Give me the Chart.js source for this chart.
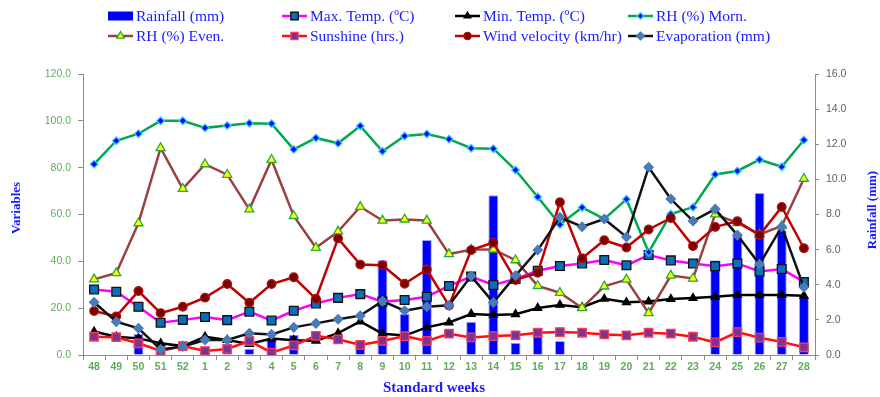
<!DOCTYPE html>
<html>
<head>
<meta charset="utf-8">
<title>Weekly weather variables</title>
<script src="https://cdn.jsdelivr.net/npm/chart.js@4.4.1/dist/chart.umd.min.js"></script>
<style>
  html, body { margin: 0; padding: 0; background: #ffffff; }
  #wrap { width: 880px; height: 397px; }
</style>
</head>
<body>
<div id="wrap"><canvas id="chart" width="880" height="397"></canvas></div>
<script>
// Standard meteorological weeks (48-52 of the first year, 1-28 of the next)
const weeks = ['48','49','50','51','52','1','2','3','4','5','6','7','8','9','10','11','12','13','14','15','16','17','18','19','20','21','22','23','24','25','26','27','28'];

// Right axis (mm)
const rainfall = [0, 0, 1.2, 0, 0, 0.3, 0.5, 0.35, 0.85, 1.15, 0, 0, 0.5, 5.4, 2.33, 6.55, 0, 1.9, 9.1, 0.7, 1.53, 0.8, 0, 0, 0, 0, 0, 0, 5.4, 6.87, 9.22, 7.1, 3.3];

// Left axis variables
const maxTemp = [28.0, 27.0, 20.6, 13.8, 15.0, 16.2, 14.9, 18.5, 14.7, 18.9, 22.0, 24.4, 26.0, 22.8, 23.5, 24.9, 29.5, 33.5, 29.9, 32.5, 36.0, 38.0, 39.1, 40.6, 38.3, 42.7, 40.4, 39.1, 37.9, 39.1, 35.7, 36.7, 31.2];
const minTemp = [10.0, 7.8, 7.1, 5.0, 3.8, 7.8, 6.4, 4.7, 7.0, 6.3, 6.1, 9.3, 14.3, 9.1, 8.3, 11.8, 13.9, 17.5, 17.1, 17.4, 20.1, 21.4, 20.4, 24.0, 22.5, 22.8, 23.9, 24.3, 24.9, 25.6, 25.6, 25.6, 25.3];
const rhMorning = [81.5, 91.5, 94.5, 100, 100, 97.0, 98.0, 99.0, 98.8, 87.8, 92.7, 90.4, 97.8, 87.0, 93.5, 94.4, 92.2, 88.3, 88.1, 79.0, 67.5, 55.7, 63.0, 58.1, 66.5, 43.9, 60.2, 63.1, 77.1, 78.6, 83.4, 80.4, 91.8];
const rhEvening = [32.3, 35.0, 56.3, 88.4, 71.0, 81.5, 77.0, 62.2, 83.4, 59.4, 45.8, 52.7, 63.3, 57.4, 57.9, 57.4, 43.1, 45.0, 45.1, 40.5, 29.5, 26.6, 20.1, 29.3, 32.2, 17.9, 33.9, 32.7, 60.1, 56.4, 51.5, 55.1, 75.3];
const sunshine = [7.8, 7.6, 5.0, 1.7, 3.8, 1.7, 2.6, 6.0, 1.0, 4.1, 8.2, 6.7, 4.3, 6.0, 8.1, 6.0, 9.1, 7.5, 8.1, 8.4, 9.5, 9.8, 9.5, 8.8, 8.4, 9.5, 9.1, 7.8, 5.4, 9.8, 7.4, 5.6, 3.3];
const windVelocity = [18.8, 16.5, 27.3, 17.9, 20.6, 24.5, 30.3, 22.3, 30.3, 33.2, 24.0, 49.8, 38.6, 38.3, 30.4, 36.5, 21.1, 44.8, 48.0, 32.0, 35.1, 65.2, 41.3, 49.0, 45.9, 53.6, 58.5, 46.5, 54.7, 57.1, 51.2, 63.2, 45.6];
const evaporation = [22.5, 14.2, 11.4, 2.4, 3.6, 6.4, 6.4, 9.3, 8.8, 11.8, 13.5, 15.3, 16.8, 23.0, 18.9, 20.6, 21.2, 33.7, 22.4, 33.9, 44.8, 58.8, 54.8, 58.1, 50.4, 80.2, 66.6, 57.2, 62.3, 51.2, 38.7, 54.8, 28.9];

// Axis tick settings
const leftTicks = { min: 0, max: 120, step: 20 };
const rightTicks = { min: 0, max: 16, step: 2 };

const GREEN_TXT = '#5cae5c';
const AXIS_GREY = '#8c8c8c';
const TITLE_BLUE = '#1a1aff';
const SANS = '"Liberation Sans", Arial, sans-serif';
const SERIF = '"Liberation Serif", "Times New Roman", serif';

function lineSet(label, data, color, style, fill, border, radius, order) {
  return {
    type: 'line', label, data, yAxisID: 'y', order,
    borderColor: color, borderWidth: 2.5, tension: 0,
    pointStyle: style, pointRadius: radius, pointHoverRadius: radius,
    pointBackgroundColor: fill, pointBorderColor: border, pointBorderWidth: 1.3,
    fill: false
  };
}

const datasets = [
  {
    type: 'bar', label: 'Rainfall (mm)', data: rainfall, yAxisID: 'y2', order: 20,
    backgroundColor: '#0000ff', borderColor: 'rgba(90,90,255,0.55)', borderWidth: 1,
    barPercentage: 0.9, categoryPercentage: 0.5
  },
  lineSet('Max. Temp. (ºC)', maxTemp, '#ff00ff', 'rect', '#0a6fb8', '#111111', 6.2, 8),
  lineSet('Min. Temp. (ºC)', minTemp, '#000000', 'triangle', '#000000', '#000000', 4.6, 7),
  lineSet('RH (%) Morn.', rhMorning, '#00a850', 'rectRot', '#0000ff', '#33ccff', 3.8, 6),
  lineSet('RH (%) Even.', rhEvening, '#9a4040', 'triangle', '#ffff00', '#22aa44', 5.2, 5),
  lineSet('Sunshine (hrs.)', sunshine, '#ff1010', 'rect', '#7a3590', '#ff3b5c', 6.0, 4),
  lineSet('Wind velocity (km/hr)', windVelocity, '#c00000', 'circle', '#7a0000', '#b01010', 4.3, 3),
  lineSet('Evaporation (mm)', evaporation, '#111111', 'rectRot', '#4a7ab8', '#4a7ab8', 4.6, 2)
];

// Legend drawn as a two-row grid above the plot
const gridLegend = {
  id: 'gridLegend',
  afterDraw(chart) {
    const ctx = chart.ctx;
    const cols = [108, 282, 455, 628];
    const rows = [16, 36];
    const symW = 25;
    ctx.save();
    ctx.font = '15.5px ' + SERIF;
    ctx.textBaseline = 'middle';
    ctx.textAlign = 'left';
    chart.data.datasets.forEach((ds, i) => {
      const x = cols[i % 4];
      const y = rows[Math.floor(i / 4)];
      if (ds.type === 'bar') {
        ctx.fillStyle = ds.backgroundColor;
        ctx.fillRect(x, y - 4.5, symW, 9);
      } else {
        ctx.strokeStyle = ds.borderColor;
        ctx.lineWidth = 2.5;
        ctx.beginPath();
        ctx.moveTo(x, y);
        ctx.lineTo(x + symW, y);
        ctx.stroke();
        ctx.fillStyle = ds.pointBackgroundColor;
        ctx.strokeStyle = ds.pointBorderColor;
        ctx.lineWidth = ds.pointBorderWidth;
        Chart.helpers.drawPoint(ctx, {
          pointStyle: ds.pointStyle,
          radius: ds.pointRadius * 0.85,
          borderWidth: ds.pointBorderWidth,
          rotation: 0
        }, x + symW / 2, y);
      }
      ctx.fillStyle = TITLE_BLUE;
      ctx.fillText(ds.label, x + symW + 3, y + 0.5);
    });
    ctx.restore();
  }
};

// Axis titles: both vertical titles read bottom-to-top
const axisTitles = {
  id: 'axisTitles',
  afterDraw(chart) {
    const ctx = chart.ctx;
    ctx.save();
    ctx.fillStyle = TITLE_BLUE;
    ctx.textAlign = 'center';
    ctx.textBaseline = 'middle';
    ctx.font = 'bold 13px ' + SERIF;
    ctx.save();
    ctx.translate(17, 208);
    ctx.rotate(-Math.PI / 2);
    ctx.fillText('Variables', 0, 0);
    ctx.restore();
    ctx.save();
    ctx.translate(873, 210);
    ctx.rotate(-Math.PI / 2);
    ctx.fillText('Rainfall (mm)', 0, 0);
    ctx.restore();
    ctx.font = 'bold 15px ' + SERIF;
    ctx.fillText('Standard weeks', 434, 388);
    ctx.restore();
  }
};

new Chart(document.getElementById('chart'), {
  data: { labels: weeks, datasets },
  options: {
    responsive: false,
    devicePixelRatio: 1,
    animation: false,
    layout: { padding: { top: 74, left: 0, right: 0, bottom: 0 } },
    plugins: {
      legend: { display: false },
      tooltip: { enabled: false },
      title: { display: false }
    },
    scales: {
      x: {
        type: 'category',
        offset: true,
        grid: { display: true, drawOnChartArea: false, drawTicks: true, tickLength: 5, color: AXIS_GREY, offset: true },
        border: { display: true, color: AXIS_GREY, width: 1 },
        ticks: { color: GREEN_TXT, font: { family: SANS, size: 10.5, weight: 'bold' }, padding: 1, maxRotation: 0, autoSkip: false },
        afterFit(scale) { scale.height = 42; }
      },
      y: {
        position: 'left',
        min: leftTicks.min, max: leftTicks.max,
        grid: { display: true, drawOnChartArea: false, drawTicks: true, tickLength: 5, color: AXIS_GREY },
        border: { display: true, color: AXIS_GREY, width: 1 },
        ticks: { stepSize: leftTicks.step, color: GREEN_TXT, font: { family: SANS, size: 10.5 }, padding: 7, callback: v => Number(v).toFixed(1) },
        afterFit(scale) { scale.width = 83; }
      },
      y2: {
        position: 'right',
        min: rightTicks.min, max: rightTicks.max,
        grid: { display: true, drawOnChartArea: false, drawTicks: true, tickLength: 4, color: AXIS_GREY },
        border: { display: true, color: AXIS_GREY, width: 1 },
        ticks: { stepSize: rightTicks.step, color: '#606060', font: { family: SANS, size: 10.5 }, padding: 7, callback: v => Number(v).toFixed(1) },
        afterFit(scale) { scale.width = 65; }
      }
    }
  },
  plugins: [gridLegend, axisTitles]
});
</script>
</body>
</html>
